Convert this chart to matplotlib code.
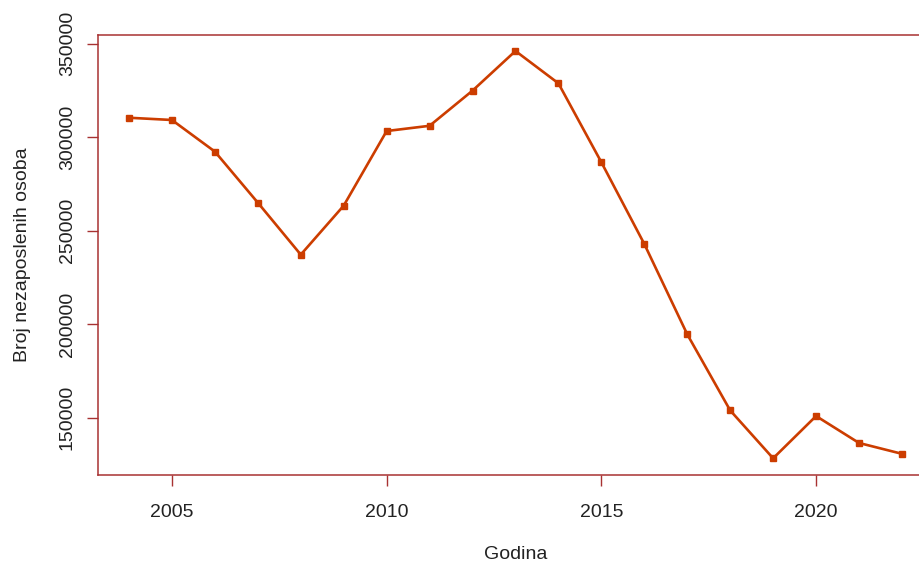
import matplotlib
matplotlib.use("Agg")
import matplotlib.pyplot as plt

godine = [2004, 2005, 2006, 2007, 2008, 2009, 2010, 2011, 2012, 2013,
          2014, 2015, 2016, 2017, 2018, 2019, 2020, 2021, 2022]
nezaposleni = [310400, 309200, 292300, 265000, 237200, 263400, 303300, 306100,
               324900, 346100, 328800, 286600, 242900, 194600, 153900, 128300,
               150900, 136500, 130700]
x_ticks = [2005, 2010, 2015, 2020]
y_ticks = [150000, 200000, 250000, 300000, 350000]

linija = '#CC3D00'
okvir = '#A83232'
tekst = '#222222'

plt.rcParams['font.family'] = ['Liberation Sans', 'DejaVu Sans']

fig = plt.figure(figsize=(9.2, 5.65), dpi=100)
ax = fig.add_axes([0.1066, 0.16, 0.9074, 0.7786])

ax.plot(godine, nezaposleni, color=linija, linewidth=1.9,
        marker='s', markersize=3.8)
ax.margins(x=0.04, y=0.04)

for s in ax.spines.values():
    s.set_color(okvir)
    s.set_linewidth(1.1)

ax.set_xticks(x_ticks)
ax.set_yticks(y_ticks)
ax.tick_params(direction='out', length=8, width=1, color=okvir,
               labelcolor=tekst, labelsize=14)
ax.tick_params(axis='x', pad=13)
ax.tick_params(axis='y', pad=8)
for lbl in ax.get_yticklabels():
    lbl.set_rotation(90)
    lbl.set_va('center')

ax.set_xlabel('Godina', fontsize=14, color=tekst)
ax.set_ylabel('Broj nezaposlenih osoba', fontsize=14, color=tekst)
ax.xaxis.set_label_coords(0.5, -0.163)
ax.yaxis.set_label_coords(-0.08, 0.5)

fig.savefig('out.png', dpi=100)
